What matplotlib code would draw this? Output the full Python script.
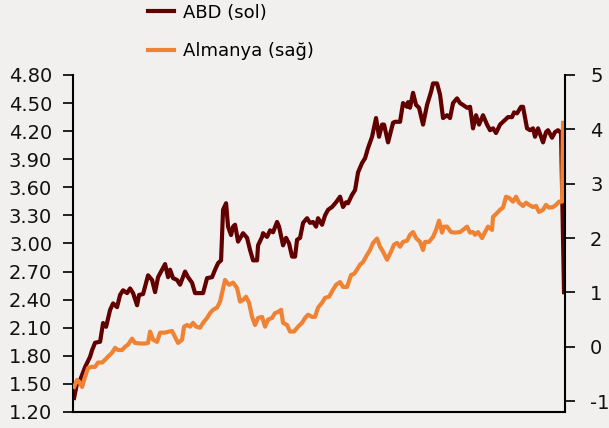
import matplotlib
matplotlib.use("Agg")
import matplotlib.pyplot as plt

# (position along the time axis, yield %)
abd_pts = [
    (1, 1.35), (4, 1.51), (7, 1.54), (12, 1.68), (17, 1.79), (19, 1.86), (22, 1.94),
    (27, 1.95), (30, 2.15), (33, 2.11), (37, 2.29), (40, 2.36), (44, 2.32), (47, 2.45),
    (50, 2.50), (54, 2.47), (57, 2.52), (60, 2.47), (64, 2.34), (66, 2.45), (70, 2.46),
    (75, 2.66), (79, 2.61), (82, 2.48), (85, 2.64), (89, 2.72), (92, 2.78), (95, 2.64),
    (97, 2.72), (100, 2.63), (104, 2.61), (107, 2.56), (112, 2.70), (115, 2.64),
    (119, 2.58), (122, 2.47), (127, 2.47), (130, 2.47), (134, 2.63), (139, 2.64),
    (142, 2.72), (145, 2.79), (148, 2.82), (150, 3.36), (153, 3.43), (155, 3.18),
    (158, 3.09), (160, 3.18), (162, 3.20), (165, 3.02), (170, 3.11), (174, 3.06),
    (177, 2.93), (180, 2.82), (184, 2.82), (185, 2.98), (189, 3.07), (190, 3.11),
    (194, 3.07), (197, 3.14), (200, 3.12), (204, 3.23), (206, 3.18), (210, 2.98),
    (213, 3.06), (216, 3.00), (219, 2.86), (222, 2.86), (224, 3.04), (227, 3.06),
    (230, 3.22), (234, 3.27), (237, 3.22), (240, 3.23), (243, 3.18), (245, 3.27),
    (249, 3.20), (252, 3.30), (255, 3.36), (259, 3.39), (263, 3.44), (267, 3.50),
    (270, 3.39), (273, 3.44), (275, 3.43), (279, 3.52), (282, 3.57), (285, 3.76),
    (289, 3.86), (292, 3.91), (295, 4.02), (299, 4.14), (303, 4.34), (306, 4.14),
    (309, 4.27), (311, 4.27), (315, 4.08), (320, 4.29), (322, 4.30), (327, 4.30),
    (330, 4.50), (334, 4.46), (335, 4.51), (337, 4.45), (340, 4.61), (343, 4.48),
    (346, 4.45), (350, 4.27), (354, 4.48), (358, 4.62), (360, 4.71), (364, 4.71),
    (367, 4.59), (370, 4.34), (374, 4.37), (377, 4.34), (380, 4.50), (384, 4.55),
    (387, 4.50), (390, 4.48), (394, 4.45), (397, 4.46), (400, 4.23), (403, 4.37),
    (406, 4.27), (410, 4.37), (414, 4.27), (417, 4.21), (420, 4.23), (423, 4.18),
    (427, 4.27), (432, 4.32), (435, 4.35), (439, 4.35), (441, 4.40), (444, 4.39),
    (448, 4.46), (450, 4.46), (454, 4.23), (457, 4.21), (460, 4.23), (462, 4.14),
    (465, 4.23), (470, 4.08), (473, 4.19), (475, 4.21), (479, 4.13), (482, 4.19),
    (485, 4.21), (488, 4.18), (491, 2.48),
]

almanya_pts = [
    (1, -0.74), (4, -0.61), (6, -0.64), (9, -0.74), (12, -0.55), (15, -0.39), (19, -0.37),
    (22, -0.37), (25, -0.29), (29, -0.29), (32, -0.24), (35, -0.18), (39, -0.11),
    (42, -0.02), (45, -0.06), (49, -0.06), (52, 0.00), (55, 0.04), (59, 0.15), (62, 0.07),
    (67, 0.06), (72, 0.06), (75, 0.07), (77, 0.28), (80, 0.13), (84, 0.09), (87, 0.26),
    (92, 0.26), (96, 0.28), (99, 0.29), (102, 0.18), (105, 0.07), (109, 0.13), (111, 0.37),
    (114, 0.40), (117, 0.37), (120, 0.44), (123, 0.37), (127, 0.35), (130, 0.44),
    (134, 0.53), (137, 0.62), (140, 0.68), (144, 0.72), (147, 0.83), (149, 0.99),
    (152, 1.23), (154, 1.18), (156, 1.14), (160, 1.18), (164, 1.08), (167, 0.83),
    (170, 0.86), (173, 0.92), (176, 0.81), (179, 0.55), (182, 0.40), (185, 0.53),
    (189, 0.55), (192, 0.37), (195, 0.50), (199, 0.53), (202, 0.62), (205, 0.64),
    (208, 0.68), (210, 0.44), (214, 0.40), (217, 0.28), (221, 0.28), (225, 0.37),
    (229, 0.44), (232, 0.53), (235, 0.59), (239, 0.55), (242, 0.55), (245, 0.72),
    (249, 0.81), (252, 0.90), (256, 0.92), (260, 1.05), (263, 1.14), (267, 1.19),
    (270, 1.10), (274, 1.10), (278, 1.32), (281, 1.34), (284, 1.42), (287, 1.51),
    (290, 1.56), (294, 1.69), (297, 1.78), (300, 1.91), (304, 1.99), (307, 1.84),
    (310, 1.75), (314, 1.60), (318, 1.75), (321, 1.88), (324, 1.91), (327, 1.84),
    (330, 1.93), (334, 1.95), (337, 2.06), (340, 2.11), (343, 2.00), (347, 1.93),
    (350, 1.78), (352, 1.93), (356, 1.93), (360, 2.02), (363, 2.15), (366, 2.32),
    (369, 2.10), (371, 2.21), (374, 2.21), (378, 2.11), (382, 2.10), (387, 2.11),
    (390, 2.15), (394, 2.21), (397, 2.10), (400, 2.11), (402, 2.06), (405, 2.11),
    (409, 2.00), (412, 2.11), (415, 2.21), (419, 2.15), (420, 2.39), (424, 2.46),
    (427, 2.52), (430, 2.56), (433, 2.76), (436, 2.74), (440, 2.67), (443, 2.76),
    (446, 2.65), (450, 2.59), (453, 2.65), (456, 2.61), (460, 2.57), (463, 2.59),
    (466, 2.48), (470, 2.52), (473, 2.61), (476, 2.56), (480, 2.57), (483, 2.61),
    (486, 2.67), (489, 2.67), (490, 4.12),
]

left_ticks = [1.20, 1.50, 1.80, 2.10, 2.40, 2.70, 3.00, 3.30, 3.60, 3.90, 4.20, 4.50, 4.80]
right_ticks = [-1, 0, 1, 2, 3, 4, 5]

abd_t, abd = zip(*abd_pts)
alm_t, alm = zip(*almanya_pts)

bg = '#f2f0ef'
dark = '#620000'
orange = '#ef8233'

plt.rcParams['font.family'] = 'DejaVu Sans'
plt.rcParams['font.size'] = 13
plt.rcParams['axes.unicode_minus'] = False

fig = plt.figure(figsize=(6.09, 4.28), dpi=100, facecolor=bg)
ax1 = fig.add_axes([0.12, 0.0374, 0.8078, 0.7874], facecolor=bg)
ax2 = ax1.twinx()

l1, = ax1.plot(abd_t, abd, color=dark, lw=3.0, label='ABD (sol)')
l2, = ax2.plot(alm_t, alm, color=orange, lw=3.0, label='Almanya (sağ)')

ax1.set_xlim(0, 492)
ax1.set_ylim(1.20, 4.80)
ax2.set_ylim(-1.2, 5)
ax1.set_yticks(left_ticks)
ax1.set_yticklabels([f'{v:.2f}' for v in left_ticks])
ax2.set_yticks(right_ticks)
ax1.set_xticks([])

for ax in (ax1, ax2):
    ax.spines['top'].set_visible(False)
    for s in ax.spines.values():
        s.set_linewidth(1.5)
ax1.spines['right'].set_visible(False)
ax2.spines['left'].set_visible(False)
ax2.spines['bottom'].set_visible(False)

ax1.tick_params(axis='y', length=7, width=1.3, pad=8, colors='#111111', labelsize=14)
ax2.tick_params(axis='y', length=7, width=1.3, pad=11, colors='#111111', labelsize=14)

fig.legend(handles=[l1, l2], loc='upper left', bbox_to_anchor=(0.226, 1.017),
           frameon=False, handlelength=1.4, handletextpad=0.5, labelspacing=1.15,
           borderpad=0.1, fontsize=13)

fig.savefig('out.png', dpi=100, facecolor=bg)
